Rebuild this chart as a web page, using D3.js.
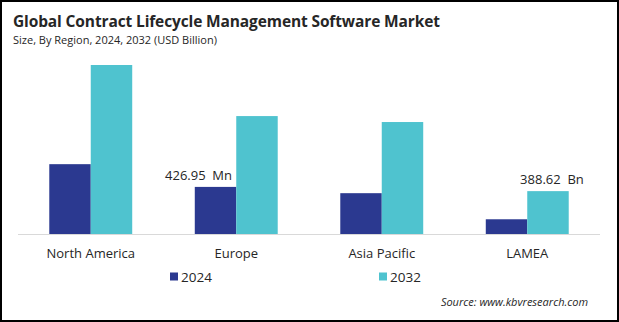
<!DOCTYPE html>
<html><head><meta charset="utf-8">
<script src="https://cdn.jsdelivr.net/npm/d3@7"></script>
<style>body{margin:0;background:#fff}svg{display:block}text{font-family:"Open Sans",sans-serif}</style>
</head><body>
<script>
const categories = ["North America", "Europe", "Asia Pacific", "LAMEA"];
const seriesNames = ["2024", "2032"];
const values2024 = [633, 426.95, 370, 133.5];
const values2032 = [1532, 1069, 1015, 388.62];
const barLabels = [{cat: "Europe", series: "2024", text: "426.95\u00a0\u00a0Mn"}, {cat: "LAMEA", series: "2032", text: "388.62\u00a0\u00a0Bn"}];
const colors = ["#2B3990", "#4FC3CF"];

const W = 619, H = 322;
const svg = d3.select("body").append("svg").attr("width", W).attr("height", H);
svg.append("rect").attr("x", 1).attr("y", 1).attr("width", W - 2).attr("height", H - 2)
  .attr("fill", "#fff").attr("stroke", "#000").attr("stroke-width", 2);

svg.append("text").attr("x", 13).attr("y", 27).attr("font-size", 15.5).attr("font-weight", "bold").attr("fill", "#262626")
  .attr("textLength", 427).attr("lengthAdjust", "spacing")
  .text("Global Contract Lifecycle Management Software Market");
svg.append("text").attr("x", 13).attr("y", 44).attr("font-size", 11).attr("fill", "#262626")
  .text("Size, By Region, 2024, 2032 (USD Billion)");

const baseY = 234, left = 18, right = 600;
const x0 = d3.scaleBand().domain(categories).range([left, right]).paddingInner(0.43).paddingOuter(0.215);
const x1 = d3.scaleBand().domain(seriesNames).range([0, x0.bandwidth()]);
const y = d3.scaleLinear().domain([0, 1532]).range([baseY, 65]);

const data = categories.map((c, i) => ({cat: c, vals: [values2024[i], values2032[i]]}));
const g = svg.append("g");
g.selectAll("g.grp").data(data).join("g").attr("class", "grp")
  .attr("transform", d => `translate(${x0(d.cat)},0)`)
  .selectAll("rect").data(d => d.vals.map((v, j) => ({v, s: seriesNames[j], j})))
  .join("rect").attr("x", d => x1(d.s)).attr("width", x1.bandwidth())
  .attr("y", d => y(d.v)).attr("height", d => baseY - y(d.v)).attr("fill", d => colors[d.j]);

const axis = d3.axisBottom(x0).tickSize(0).tickPadding(15);
const ag = svg.append("g").attr("transform", `translate(0,${baseY})`).call(axis);
ag.select(".domain").attr("stroke", "#d9d9d9").attr("stroke-width", 1).attr("d", `M${left},0.5H${right}`);
ag.selectAll("text").attr("font-size", 13).attr("fill", "#262626").attr("font-family", "Open Sans");

barLabels.forEach(l => {
  const ci = categories.indexOf(l.cat), si = seriesNames.indexOf(l.series);
  const v = si === 0 ? values2024[ci] : values2032[ci];
  const cx = x0(l.cat) + x1(l.series) + x1.bandwidth() / 2;
  svg.append("text").attr("x", si === 0 ? cx - 17 : cx + 4).attr("y", y(v) - 7)
    .attr("text-anchor", "middle").attr("font-size", 13).attr("fill", "#262626").text(l.text);
});

const legX = [170, 379];
seriesNames.forEach((s, i) => {
  svg.append("rect").attr("x", legX[i]).attr("y", 272.5).attr("width", 8).attr("height", 8).attr("fill", colors[i]);
  svg.append("text").attr("x", legX[i] + 11).attr("y", 281.5).attr("font-size", 13.5).attr("fill", "#262626").text(s);
});

svg.append("text").attr("x", 588).attr("y", 306).attr("text-anchor", "end").attr("font-size", 11)
  .attr("font-style", "italic").attr("fill", "#262626").text("Source: www.kbvresearch.com");
</script>
</body></html>
